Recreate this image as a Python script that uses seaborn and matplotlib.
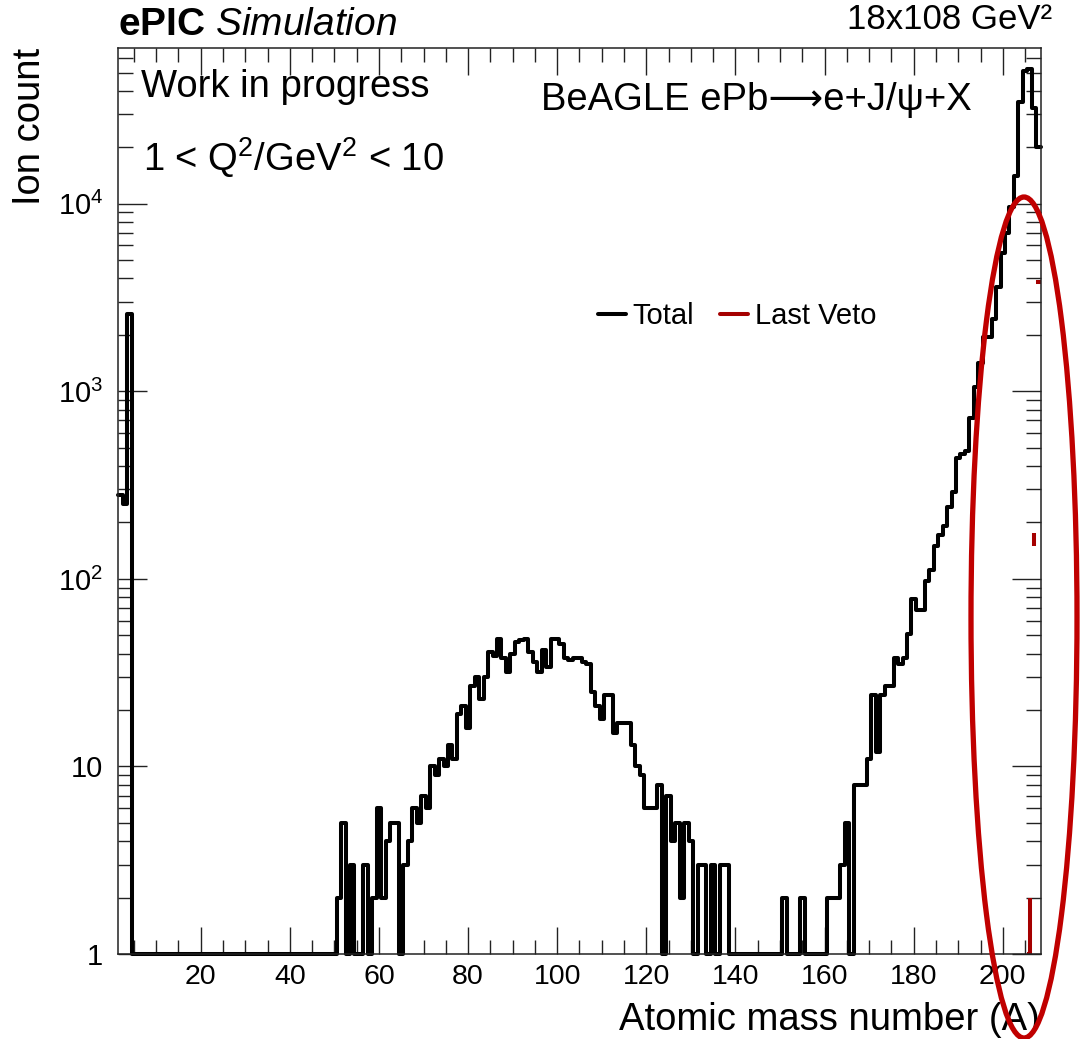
import numpy as np
import pandas as pd
import matplotlib
matplotlib.use("Agg")
import matplotlib.pyplot as plt
import seaborn as sns
from matplotlib.patches import Ellipse
from matplotlib.ticker import FixedLocator, FixedFormatter, NullFormatter

sns.set_theme(style="ticks")
plt.rcParams["font.family"] = ["Liberation Sans", "DejaVu Sans"]
plt.rcParams["mathtext.fontset"] = "custom"
plt.rcParams["mathtext.rm"] = "Liberation Sans"
plt.rcParams["mathtext.it"] = "Liberation Sans:italic"
plt.rcParams["mathtext.bf"] = "Liberation Sans:bold"
for key in ("text.color", "axes.labelcolor", "xtick.color", "ytick.color"):
    plt.rcParams[key] = "black"

# Ion yield per atomic mass number A (bins of width 1, A = 2 ... 208)
mass_number = np.arange(2, 209)
ion_count = np.array([
    280, 250, 2600, 1, 1, 1, 1, 1, 1, 1,          # A 2-11
    1, 1, 1, 1, 1, 1, 1, 1, 1, 1,                 # A 12-21
    1, 1, 1, 1, 1, 1, 1, 1, 1, 1,                 # A 22-31
    1, 1, 1, 1, 1, 1, 1, 1, 1, 1,                 # A 32-41
    1, 1, 1, 1, 1, 1, 1, 1, 1, 2,                 # A 42-51
    5, 1, 3, 1, 1, 3, 1, 2, 6, 2,                 # A 52-61
    4, 5, 5, 1, 3, 4, 6, 5, 7, 6,                 # A 62-71
    10, 9, 11, 10, 13, 11, 19, 21, 16, 27,        # A 72-81
    30, 23, 30, 41, 39, 48, 38, 32, 40, 46,       # A 82-91
    47, 48, 41, 36, 32, 42, 34, 48, 48, 45,       # A 92-101
    38, 37, 38, 38, 36, 35, 25, 21, 18, 24,       # A 102-111
    24, 15, 17, 17, 17, 13, 10, 9, 6, 6,          # A 112-121
    6, 8, 1, 7, 4, 5, 2, 5, 4, 1,                 # A 122-131
    3, 3, 1, 3, 1, 3, 3, 1, 1, 1,                 # A 132-141
    1, 1, 1, 1, 1, 1, 1, 1, 1, 2,                 # A 142-151
    1, 1, 1, 2, 1, 1, 1, 1, 1, 2,                 # A 152-161
    2, 2, 3, 5, 1, 8, 8, 8, 11, 24,               # A 162-171
    12, 24, 27, 27, 38, 35, 38, 51, 78, 68,       # A 172-181
    68, 97, 111, 150, 171, 191, 243, 290, 440, 462,           # A 182-191
    480, 720, 1050, 1420, 1950, 1950, 2420, 3600, 5500, 7000,  # A 192-201
    9600, 14000, 34750, 51300, 52300, 32400, 20100,           # A 202-208
])

# Ions reaching the last veto station
veto_mass_number = np.array([206, 207, 208])
veto_count = np.array([1, 163, 3850])

hist_df = pd.DataFrame({"A": mass_number, "count": ion_count})

fig = plt.figure(figsize=(10.81, 10.39), dpi=100)
ax = fig.add_axes([0.1094, 0.0818, 0.9627 - 0.1094, 0.9535 - 0.0818])
ax.set_facecolor("white")

veto_red = "#a50000"
sns.histplot(data=hist_df, x="A", weights="count", binwidth=1,
             binrange=(1.5, 208.5), element="step", fill=False,
             color="black", linewidth=2.9, ax=ax)
for line in ax.lines:
    line.set_clip_on(False)

# Last-veto counts with Poisson error bars
veto_err_low = np.minimum(np.sqrt(veto_count), veto_count - 1e-9)
ax.errorbar(veto_mass_number, veto_count, xerr=0.5,
            yerr=[veto_err_low, np.sqrt(veto_count)],
            fmt="none", ecolor=veto_red, elinewidth=2.9, capsize=0)

ax.set_yscale("log")
ax.set_xlim(1.5, 208.5)
ax.set_ylim(1, 6.75e4)

# ROOT-style ticks on all four sides
ax.xaxis.set_major_locator(FixedLocator(np.arange(20, 201, 20)))
ax.xaxis.set_minor_locator(FixedLocator(np.arange(5, 209, 5)))
ax.yaxis.set_major_locator(FixedLocator([1, 10, 100, 1000, 10000]))
ax.yaxis.set_major_formatter(FixedFormatter(["1", "10", r"$10^{2}$", r"$10^{3}$", r"$10^{4}$"]))
minor_y = [m * 10 ** d for d in range(0, 5) for m in range(2, 10)]
ax.yaxis.set_minor_locator(FixedLocator(minor_y))
ax.yaxis.set_minor_formatter(NullFormatter())
ax.tick_params(axis="x", which="major", direction="in", length=19.5, width=1.0,
               top=True, labelsize=20.5, pad=7, color="#222222")
ax.tick_params(axis="x", which="minor", direction="in", length=10, width=1.0,
               top=True, color="#222222")
ax.tick_params(axis="y", which="major", direction="in", length=21, width=1.0,
               right=True, labelsize=21, pad=11, color="#222222")
ax.tick_params(axis="y", which="minor", direction="in", length=10.5, width=1.0,
               right=True, color="#222222")
for sp in ax.spines.values():
    sp.set_linewidth(1.1)
    sp.set_color("#222222")

ax.set_xlabel("")
ax.set_ylabel("")
fig.text(1040 / 1081, 1 - 1030 / 1039, "Atomic mass number (A)", ha="right",
         va="baseline", fontsize=27.5)
fig.text(30 / 1081, 1 - 48 / 1039, "Ion count", rotation=90, ha="center",
         va="top", fontsize=27.5)

# Header and annotations
fig.text(118 / 1081, 1 - 35 / 1039, r"$\mathbf{ePIC}$ $\mathit{Simulation}$",
         ha="left", va="baseline", fontsize=28)
fig.text(1052 / 1081, 1 - 29 / 1039, "18x108 GeV\u00b2", ha="right",
         va="baseline", fontsize=25)
fig.text(141 / 1081, 1 - 97 / 1039, "Work in progress", ha="left",
         va="baseline", fontsize=27.5)
fig.text(143 / 1081, 1 - 171 / 1039, "1 < Q$^{2}$/GeV$^{2}$ < 10", ha="left",
         va="baseline", fontsize=27.5)
fig.text(972 / 1081, 1 - 110 / 1039, "BeAGLE ePb\u27f6e+J/\u03c8+X", ha="right",
         va="baseline", fontsize=27.5)

handles = [plt.Line2D([], [], color="black", lw=2.9),
           plt.Line2D([], [], color=veto_red, lw=2.9)]
ax.legend(handles, ["Total", "Last Veto"], ncol=2, frameon=False,
          loc="center", bbox_to_anchor=(0.671, 0.7045), fontsize=21,
          handlelength=0.96, handletextpad=0.24, columnspacing=0.89)

# Highlight of the A ~ 200 region
ring = Ellipse((1024 / 1081, 1 - 617.5 / 1039), width=106 / 1081,
               height=841 / 1039, transform=fig.transFigure, fill=False,
               edgecolor="#c00000", linewidth=3.8, clip_on=False, zorder=10)
fig.add_artist(ring)

fig.savefig("out.png", dpi=100, facecolor="white")
